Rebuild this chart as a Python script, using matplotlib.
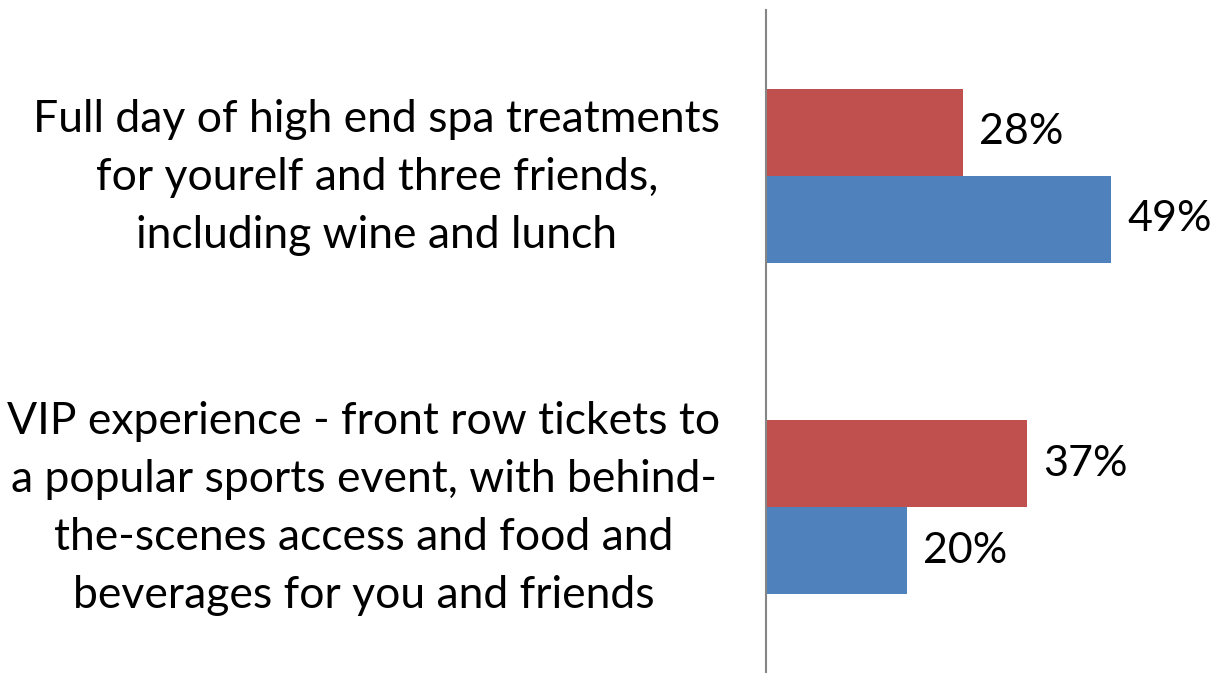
import numpy as np
import matplotlib
matplotlib.use("Agg")
from matplotlib import pyplot as plt
from matplotlib.transforms import ScaledTranslation

plt.rcParams['font.family'] = ['Lato', 'DejaVu Sans']

categories = [
    "VIP experience - front row tickets to\na popular sports event, with behind-\nthe-scenes access and food and\nbeverages for you and friends",
    "Full day of high end spa treatments\nfor yourelf and three friends,\nincluding wine and lunch",
]
red_values = [37, 28]
blue_values = [20, 49]

RED = '#C0504D'
BLUE = '#4F81BD'

fig = plt.figure(figsize=(12.14, 6.73), dpi=100)
ax = fig.add_axes([0.631, 0.0, 0.369, 0.985])

y = np.arange(len(categories))
h = 0.262
red_bars = ax.barh(y + h / 2, red_values, height=h, color=RED)
blue_bars = ax.barh(y - h / 2, blue_values, height=h, color=BLUE)

# percent labels just past the bar ends
for bars, vals in ((red_bars, red_values), (blue_bars, blue_values)):
    for b, v in zip(bars, vals):
        ax.text(b.get_width() + 2.3, b.get_y() + b.get_height() / 2, f"{v}%",
                va='center', ha='left', fontsize=31)

ax.set_xlim(0, 63.6)
ax.set_ylim(-0.5, 1.5)
ax.set_yticks(y)
ax.set_yticklabels(categories, fontsize=32, multialignment='center', linespacing=1.52)
ax.tick_params(axis='y', length=0, pad=33)
ax.set_xticks([])

# nudge the category text up a little
shift = ScaledTranslation(0, 8 / 72, fig.dpi_scale_trans)
for lbl in ax.get_yticklabels():
    lbl.set_transform(lbl.get_transform() + shift)

for side in ('top', 'right', 'bottom'):
    ax.spines[side].set_visible(False)
ax.spines['left'].set_color('#868686')
ax.spines['left'].set_linewidth(1.5)

fig.savefig('out.png', dpi=100)
